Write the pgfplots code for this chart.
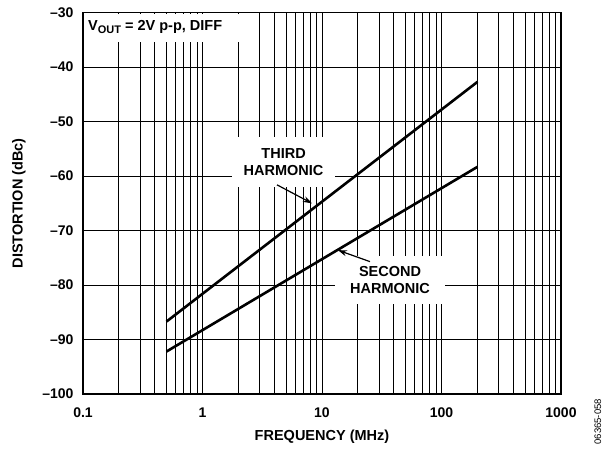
\documentclass[border=0pt]{standalone}
\usepackage{pgfplots}
\pgfplotsset{compat=1.18}
\usepackage{fontspec}
\setmainfont{Liberation Sans}
\usetikzlibrary{arrows.meta,calc}
\begin{document}
\begin{tikzpicture}[font=\bfseries\fontsize{14.5}{17}\selectfont]
\begin{axis}[name=ax,
  xmode=log, xmin=0.1, xmax=1000, ymin=-100, ymax=-30,
  width=478pt, height=381.3pt, scale only axis,
  xtick={0.1,1,10,100,1000}, xticklabels={0.1,1,10,100,1000},
  ytick={-100,-90,-80,-70,-60,-50,-40,-30},
  yticklabels={–100,–90,–80,–70,–60,–50,–40,–30},
  minor xtick={0.2,0.3,0.4,0.5,0.6,0.7,0.8,0.9,2,3,4,5,6,7,8,9,20,30,40,50,60,70,80,90,200,300,400,500,600,700,800,900},
  xmajorgrids, xminorgrids, ymajorgrids,
  major grid style={black, line width=1pt},
  minor grid style={black, line width=1pt},
  major tick length=0pt, minor tick length=0pt,
  axis line style={line width=1.6pt},
  ticklabel style={font=\bfseries\fontsize{14}{16}\selectfont},
  xticklabel style={anchor=base, yshift=-24pt},
  yticklabel style={anchor=east, xshift=-6pt},
  label style={font=\bfseries\fontsize{15}{17}\selectfont},
  every axis x label/.style={at={(axis description cs:0.5,-0.1128)}, anchor=center},
  every axis y label/.style={at={(axis description cs:-0.134,0.5)}, anchor=center, rotate=90},
  xlabel={FREQUENCY (MHz)}, ylabel={DISTORTION (dBc)},
  clip=false,
]
\addplot[black, line width=2.6pt] coordinates {(0.5,-86.7) (200,-42.7)};
\addplot[black, line width=2.6pt] coordinates {(0.5,-92.2) (200,-58.3)};
% label boxes
\node[fill=white, inner sep=0pt, minimum width=158pt, minimum height=28pt, anchor=north west] at ($(rel axis cs:0,1)+(1.2pt,-1.2pt)$) {};
\node[anchor=west, inner sep=0pt] at (axis description cs:0.0105,0.9625) {V\raisebox{-0.45ex}{\fontsize{11}{13}\selectfont OUT} = 2V p-p, DIFF};
\node[fill=white, inner sep=0pt, minimum width=103pt, minimum height=50pt, align=center] at (axis cs:4.77,-57.5) {THIRD\\HARMONIC};
\node[fill=white, inner sep=0pt, minimum width=110pt, minimum height=48pt, align=center] at (axis cs:37.1,-79.1) {SECOND\\HARMONIC};
\draw[line width=1.2pt, -{Stealth[length=9pt,width=6pt]}] (axis cs:4.2,-61.6) -- (axis cs:8.25,-65.0);
\draw[line width=1.2pt, -{Stealth[length=9pt,width=6pt]}] (axis cs:25.2,-75.7) -- (axis cs:13.6,-73.6);
\node[rotate=90, font=\mdseries\fontsize{9.5}{11}\selectfont] at (axis description cs:1.077,-0.073) {06365-058};
\end{axis}
\pgfresetboundingbox
\path[use as bounding box] ($(ax.south west)+(-83pt,-56pt)$) rectangle ($(ax.north east)+(46pt,12.7pt)$);
\end{tikzpicture}
\end{document}
